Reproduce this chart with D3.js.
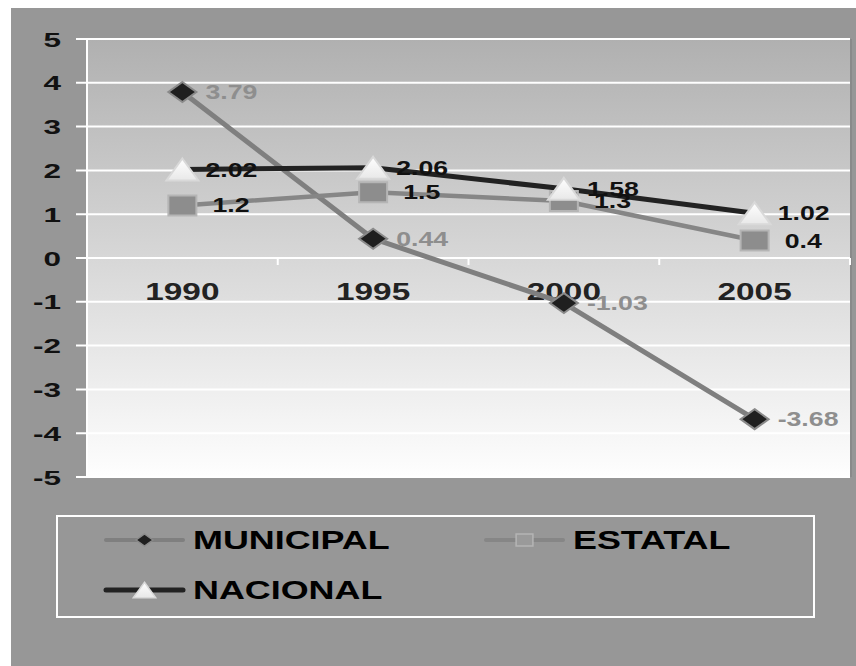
<!DOCTYPE html>
<html>
<head>
<meta charset="utf-8">
<script src="https://cdn.jsdelivr.net/npm/d3@7"></script>
<style>
  html, body { margin: 0; padding: 0; background: #ffffff; }
  svg { display: block; }
  text { font-family: "Liberation Sans", Arial, sans-serif; font-weight: bold; }
</style>
</head>
<body>
<svg id="chart" width="856" height="666"></svg>
<script>
// ---- data ----
const categories = ["1990", "1995", "2000", "2005"];
const municipal = [3.79, 0.44, -1.03, -3.68];
const estatal   = [1.2, 1.5, 1.3, 0.4];
const nacional  = [2.02, 2.06, 1.58, 1.02];
const yTicks = [5, 4, 3, 2, 1, 0, -1, -2, -3, -4, -5];
const seriesNames = ["MUNICIPAL", "ESTATAL", "NACIONAL"];

const series = [
  { name: seriesNames[0], values: municipal, line: "#7f7f7f", width: 5, marker: "diamond",
    fill: "#1f1f1f", stroke: "#8a8a8a", label: "#8e8e8e", dx: 23 },
  { name: seriesNames[1], values: estatal, line: "#868686", width: 4.5, marker: "square",
    fill: "#8d8d8d", stroke: "#b5b5b5", label: "#111111", dx: 30 },
  { name: seriesNames[2], values: nacional, line: "#222222", width: 5, marker: "triangle",
    fill: "#f7f7f7", stroke: "#d9d9d9", label: "#111111", dx: 23 }
];

const svg = d3.select("#chart");

// outer gray background
svg.append("rect").attr("x", 11).attr("y", 8).attr("width", 845).attr("height", 658).attr("fill", "#979797");

const plot = { left: 87, right: 850, top: 39, bottom: 477 };

const x = d3.scaleBand().domain(categories).range([plot.left, plot.right]);
const y = d3.scaleLinear().domain([-5, 5]).range([plot.bottom, plot.top]);

// plot background gradient
const defs = svg.append("defs");
const grad = defs.append("linearGradient").attr("id", "bg").attr("x1", 0).attr("y1", 0).attr("x2", 0).attr("y2", 1);
grad.append("stop").attr("offset", "0%").attr("stop-color", "#b0b0b0");
grad.append("stop").attr("offset", "100%").attr("stop-color", "#fefefe");
const tgrad = defs.append("linearGradient").attr("id", "tri").attr("x1", 0).attr("y1", 0).attr("x2", 0).attr("y2", 1);
tgrad.append("stop").attr("offset", "0%").attr("stop-color", "#ffffff");
tgrad.append("stop").attr("offset", "100%").attr("stop-color", "#e8e8e8");

svg.append("rect")
  .attr("x", plot.left).attr("y", plot.top)
  .attr("width", plot.right - plot.left).attr("height", plot.bottom - plot.top)
  .attr("fill", "url(#bg)");
// slight right shadow edge
svg.append("line").attr("x1", plot.right + 1).attr("x2", plot.right + 1)
  .attr("y1", plot.top).attr("y2", plot.bottom).attr("stroke", "#8a8a8a").attr("stroke-width", 2);

// gridlines
svg.append("g").selectAll("line").data(yTicks).join("line")
  .attr("x1", 76).attr("x2", plot.right)
  .attr("y1", d => y(d)).attr("y2", d => y(d))
  .attr("stroke", "#ffffff").attr("stroke-width", 2);

// y axis line
svg.append("line").attr("x1", plot.left).attr("x2", plot.left)
  .attr("y1", plot.top - 1).attr("y2", plot.bottom + 1)
  .attr("stroke", "#ffffff").attr("stroke-width", 2);

// x-axis ticks at category boundaries on zero line
const bounds = categories.map(c => x(c) + x.bandwidth());
svg.append("g").selectAll("line").data(bounds).join("line")
  .attr("x1", d => d).attr("x2", d => d)
  .attr("y1", y(0)).attr("y2", y(0) + 7)
  .attr("stroke", "#ffffff").attr("stroke-width", 2);

// y tick labels
svg.append("g").selectAll("g").data(yTicks).join("g")
  .attr("transform", d => `translate(61,${y(d)}) scale(1.5,1)`)
  .append("text")
  .attr("text-anchor", "end").attr("dy", "0.36em")
  .attr("font-size", 21).attr("fill", "#111")
  .text(d => d);

// x category labels
svg.append("g").selectAll("g").data(categories).join("g")
  .attr("transform", d => `translate(${x(d) + x.bandwidth() / 2},${y(0) + 34}) scale(1.45,1)`)
  .append("text")
  .attr("text-anchor", "middle").attr("dy", "0.36em")
  .attr("font-size", 23).attr("fill", "#222")
  .text(d => d);

const cx = (i) => x(categories[i]) + x.bandwidth() / 2;

function markerPath(type, scale) {
  const s = scale || 1;
  if (type === "diamond") {
    const w = 14 * s, h = 10 * s;
    return `M0,${-h}L${w},0L0,${h}L${-w},0Z`;
  }
  if (type === "square") {
    const w = 14 * s, h = 10 * s;
    return `M${-w},${-h}H${w}V${h}H${-w}Z`;
  }
  const w = 16 * s, h = 11 * s;
  return `M0,${-h}L${w},${h}L${-w},${h}Z`;
}

// lines
const lineGen = d3.line().x((d, i) => cx(i)).y(d => y(d));
series.forEach(s => {
  svg.append("path").datum(s.values)
    .attr("d", lineGen)
    .attr("fill", "none").attr("stroke", s.line).attr("stroke-width", s.width)
    .attr("stroke-linejoin", "round");
});

// markers
series.forEach(s => {
  svg.append("g").selectAll("path").data(s.values).join("path")
    .attr("transform", (d, i) => `translate(${cx(i)},${y(d)})`)
    .attr("d", markerPath(s.marker))
    .attr("fill", s.marker === "triangle" ? "url(#tri)" : s.fill)
    .attr("stroke", s.stroke).attr("stroke-width", 2);
});

// data labels
series.forEach(s => {
  svg.append("g").selectAll("g").data(s.values).join("g")
    .attr("transform", (d, i) => `translate(${cx(i) + s.dx},${y(d)}) scale(1.37,1)`)
    .append("text")
    .attr("dy", "0.36em").attr("font-size", 19.5).attr("fill", s.label)
    .text(d => d);
});

// legend
svg.append("rect").attr("x", 57).attr("y", 516).attr("width", 757).attr("height", 101)
  .attr("fill", "none").attr("stroke", "#ffffff").attr("stroke-width", 2);

const legendPos = [
  { x: 106, y: 540 },
  { x: 486, y: 540 },
  { x: 106, y: 590 }
];
series.forEach((s, i) => {
  const p = legendPos[i];
  const g = svg.append("g").attr("transform", `translate(${p.x},${p.y})`);
  g.append("line").attr("x1", 0).attr("x2", 77).attr("y1", 0).attr("y2", 0)
    .attr("stroke", s.line).attr("stroke-width", s.marker === "triangle" ? 5 : 4)
    .attr("stroke-linecap", "round");
  g.append("path").attr("transform", "translate(38.5,0)")
    .attr("d", markerPath(s.marker, s.marker === "triangle" ? 0.7 : (s.marker === "square" ? 0.6 : 0.6)))
    .attr("fill", s.marker === "triangle" ? "url(#tri)" : (s.marker === "square" ? "#9a9a9a" : s.fill))
    .attr("stroke", s.stroke).attr("stroke-width", 1.5);
  g.append("g").attr("transform", "translate(87,0) scale(1.38,1)")
    .append("text").attr("dy", "0.36em").attr("font-size", 26).attr("fill", "#000")
    .text(s.name);
});
</script>
</body>
</html>
